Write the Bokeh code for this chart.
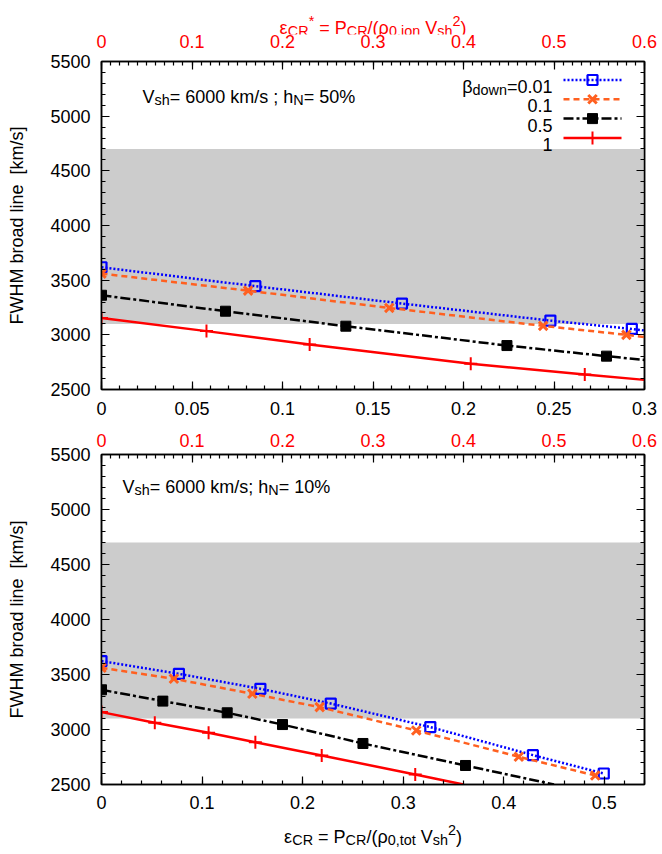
import numpy as np
from bokeh.plotting import figure
from bokeh.models import (Range1d, LinearAxis, FixedTicker, CustomJSTickFormatter,
                          BoxAnnotation, Label)
from bokeh.layouts import column
from bokeh.embed import file_html
from bokeh.resources import INLINE

# ---------------- data ----------------
BAND_LO, BAND_HI = 3100, 4700
Y_TICKS = [2500, 3000, 3500, 4000, 4500, 5000, 5500]
STAR_TICKS = [0, 0.1, 0.2, 0.3, 0.4, 0.5, 0.6]
TOP_X_TICKS = [0, 0.05, 0.1, 0.15, 0.2, 0.25, 0.3]
BOT_X_TICKS = [0, 0.1, 0.2, 0.3, 0.4, 0.5]
TOP_XMAX = 0.3
BOT_XMAX = 0.54
STAR_MAX = 0.6
BETA_LABELS = ["0.01", "0.1", "0.5", "1"]

# top panel (h_N = 50%)
TOP_EPS_B001 = [0, 0.085, 0.166, 0.248, 0.293]
TOP_FWHM_B001 = [3618, 3445, 3286, 3130, 3054]
TOP_EPS_B01 = [0, 0.081, 0.159, 0.244, 0.290]
TOP_FWHM_B01 = [3560, 3404, 3246, 3082, 3000]
TOP_EPS_B05 = [0, 0.0685, 0.135, 0.224, 0.279]
TOP_FWHM_B05 = [3362, 3216, 3079, 2902, 2805]
TOP_EPS_B1 = [0, 0.058, 0.115, 0.204, 0.267]
TOP_FWHM_B1 = [3155, 3034, 2911, 2735, 2637]
# where the curves leave the right edge of the frame
TOP_END_EPS = [0.3, 0.3, 0.3, 0.3]
TOP_END_FWHM = [3040, 2980, 2770, 2588]

# bottom panel (h_N = 10%)
BOT_EPS_B001 = [0, 0.077, 0.158, 0.228, 0.327, 0.429, 0.4995]
BOT_FWHM_B001 = [3622, 3506, 3370, 3236, 3022, 2767, 2600]
BOT_EPS_B01 = [0, 0.072, 0.150, 0.217, 0.313, 0.415, 0.491]
BOT_FWHM_B01 = [3561, 3461, 3325, 3203, 2991, 2752, 2582]
BOT_EPS_B05 = [0, 0.061, 0.125, 0.180, 0.260, 0.362]
BOT_FWHM_B05 = [3361, 3258, 3152, 3045, 2873, 2673]
BOT_EPS_B1 = [0, 0.053, 0.1065, 0.153, 0.219, 0.312]
BOT_FWHM_B1 = [3158, 3061, 2970, 2885, 2764, 2591]
# where the curves leave the bottom of the frame (None: curve stops at last point)
BOT_END_EPS = [None, None, 0.45, 0.36]
BOT_END_FWHM = [None, None, 2500, 2500]

# ---------------- styles ----------------
FONT = "Liberation Sans"
FS = 18
SUBF = 0.8
RED = "#ff0000"
STYLES = [
    dict(color="#0000ff", dash="2 2", marker="square", size=10, fill=None, mlw=2.2),
    dict(color="#ff6020", dash="6 4", marker="x", size=12, fill=None, mlw=3),
    dict(color="#000000", dash="10 3 3 3", marker="square", size=10, fill="#000000", mlw=1),
    dict(color="#ff0000", dash="solid", marker="cross", size=13, fill=None, mlw=2),
]
FW = 543
BL, BR = 101, 14

W = {' ': 278, '%': 889, '(': 333, ')': 333, '*': 389, ',': 278, '.': 278, '/': 278,
     ';': 278, '=': 584, '[': 278, ']': 278, 'C': 722, 'N': 722, 'P': 667, 'R': 722,
     'V': 667, 'a': 556, 'b': 556, 'd': 556, 'e': 556, 'h': 556, 'i': 222, 'k': 500,
     'l': 222, 'm': 833, 'n': 556, 'o': 556, 'r': 333, 's': 500, 't': 278, 'w': 722,
     'ε': 460, 'ρ': 577, 'β': 575}


def text_w(s, size):
    return sum(W.get(c, 556) for c in s) / 1000.0 * size


def rich(p, x, y, parts, color="black", anchor="left", size=FS):
    sizes = [size if m == "n" else size * SUBF for _, m in parts]
    widths = [text_w(t, s) for (t, _), s in zip(parts, sizes)]
    tot = sum(widths)
    x0 = x - tot / 2 if anchor == "center" else (x - tot if anchor == "right" else x)
    for (t, m), s, w in zip(parts, sizes, widths):
        dy = {"n": 0, "b": -0.22 * size, "p": 0.38 * size}[m]
        p.add_layout(Label(x=x0, y=y + dy, x_units="screen", y_units="screen",
                           text=t.replace(" ", "\u00a0"),
                           text_font=FONT, text_font_size=f"{s:.1f}px", text_color=color,
                           text_align="left", text_baseline="alphabetic"))
        x0 += w


FMT = CustomJSTickFormatter(code="return Number(tick.toFixed(2)).toString();")
NOFMT = CustomJSTickFormatter(code="return '';")


def style_labels(ax, color="black"):
    ax.major_label_text_font = FONT
    ax.major_label_text_font_size = f"{FS}px"
    ax.major_label_text_color = color


def strip(h, bbot=0, with_star_axis=False):
    s = figure(frame_width=FW, frame_height=h, x_range=Range1d(0, STAR_MAX), y_range=Range1d(0, 1),
               x_axis_type="linear" if with_star_axis else None, y_axis_type=None,
               output_backend="svg", toolbar_location=None, min_border_left=BL,
               min_border_right=BR, min_border_top=0, min_border_bottom=bbot,
               outline_line_color=None)
    s.grid.visible = False
    if with_star_axis:
        ax = s.xaxis[0]
        ax.ticker = FixedTicker(ticks=STAR_TICKS, minor_ticks=[])
        ax.formatter = FMT
        ax.major_tick_in = 0
        ax.major_tick_out = 0
        ax.minor_tick_in = 0
        ax.minor_tick_out = 0
        ax.axis_line_color = None
        ax.major_tick_line_color = None
        ax.minor_tick_line_color = None
        ax.major_label_standoff = 0
        style_labels(ax, RED)
    return s


def make_fig(xmax, xticks, fh, btop, bbot, top_labels, top_standoff, bot_standoff):
    p = figure(frame_width=FW, frame_height=fh, x_range=Range1d(0, xmax),
               y_range=Range1d(Y_TICKS[0], Y_TICKS[-1]), output_backend="svg",
               toolbar_location=None, min_border_left=BL, min_border_right=BR,
               min_border_top=btop, min_border_bottom=bbot)
    p.extra_x_ranges = {"star": Range1d(0, STAR_MAX)}
    p.grid.visible = False
    p.outline_line_color = "black"
    p.outline_line_width = 1.5
    step = xticks[1] - xticks[0]
    xax = p.xaxis[0]
    xax.ticker = FixedTicker(ticks=xticks, minor_ticks=list(np.arange(0, xmax + 1e-9, step / 5)))
    yax = p.yaxis[0]
    yax.ticker = FixedTicker(ticks=Y_TICKS, minor_ticks=list(range(Y_TICKS[0], Y_TICKS[-1] + 1, 100)))
    yax.axis_label = "FWHM broad line\u00a0 [km/s]"
    yax.axis_label_text_font = FONT
    yax.axis_label_text_font_size = f"{FS}px"
    yax.axis_label_text_font_style = "normal"
    yax.axis_label_text_color = "black"
    yax.axis_label_standoff = 20
    top = LinearAxis(x_range_name="star",
                     ticker=FixedTicker(ticks=STAR_TICKS,
                                        minor_ticks=list(np.arange(0, STAR_MAX + 1e-9, 0.01))))
    right = LinearAxis(ticker=FixedTicker(ticks=Y_TICKS,
                                          minor_ticks=list(range(Y_TICKS[0], Y_TICKS[-1] + 1, 100))))
    p.add_layout(top, "above")
    p.add_layout(right, "right")
    for ax in (xax, yax, top, right):
        ax.formatter = FMT
        ax.major_tick_in = 8
        ax.major_tick_out = 0
        ax.minor_tick_in = 4
        ax.minor_tick_out = 0
        ax.axis_line_width = 1.5
        ax.major_tick_line_width = 1.2
        ax.minor_tick_line_width = 1.2
        style_labels(ax)
    yax.major_label_standoff = 11
    xax.major_label_standoff = bot_standoff
    if top_labels:
        top.major_label_standoff = top_standoff
        top.major_label_text_color = RED
    else:
        top.formatter = NOFMT
        top.major_label_standoff = 0
        top.major_label_text_font_size = "1px"
    right.formatter = NOFMT
    right.major_label_standoff = 0
    p.add_layout(BoxAnnotation(bottom=BAND_LO, top=BAND_HI, fill_color="#cccccc",
                               fill_alpha=1.0, line_color=None, level="underlay"))
    return p


def draw_series(p, xs, ys, st, end_x=None, end_y=None):
    lx = list(xs) + ([end_x] if end_x is not None else [])
    ly = list(ys) + ([end_y] if end_y is not None else [])
    p.line(lx, ly, line_color=st["color"], line_width=2.5, line_dash=st["dash"])
    p.scatter(xs, ys, marker=st["marker"], size=st["size"], line_color=st["color"],
              fill_color=st["fill"], line_width=st["mlw"])


# ---------------- title strip (with the red eps* tick labels below it) ----------------
H0 = 34
s0 = strip(H0, bbot=0, with_star_axis=True)
rich(s0, FW / 2, 7,
     [("ε", "n"), ("CR", "b"), ("*", "p"), (" = P", "n"), ("CR", "b"), ("/(ρ", "n"),
      ("0,ion", "b"), (" V", "n"), ("sh", "b"), ("2", "p"), (")", "n")],
     color=RED, anchor="center")

# ---------------- top panel ----------------
FH1 = 328
p1 = make_fig(TOP_XMAX, TOP_X_TICKS, FH1, 11, 33, False, 0, 12)
top_series = [(TOP_EPS_B001, TOP_FWHM_B001), (TOP_EPS_B01, TOP_FWHM_B01),
              (TOP_EPS_B05, TOP_FWHM_B05), (TOP_EPS_B1, TOP_FWHM_B1)]
for (xs, ys), st, ex, ey in zip(top_series, STYLES, TOP_END_EPS, TOP_END_FWHM):
    draw_series(p1, xs, ys, st, ex, ey)

rich(p1, 41, FH1 - 35,
     [("V", "n"), ("sh", "b"), ("= 6000 km/s ; h", "n"), ("N", "b"), ("= 50%", "n")])

# legend (gnuplot style: text at left, sample at right)
leg_text_x = 451
leg_base = [FH1 - 25, FH1 - 44.3, FH1 - 63.6, FH1 - 82.9]
leg_x0, leg_x1 = 462, 520
for i, (st, lab) in enumerate(zip(STYLES, BETA_LABELS)):
    if i == 0:
        rich(p1, leg_text_x, leg_base[i], [("β", "n"), ("down", "b"), ("=" + lab, "n")], anchor="right")
    else:
        rich(p1, leg_text_x, leg_base[i], [(lab, "n")], anchor="right")
    cy = leg_base[i] + 6.5
    yd = Y_TICKS[0] + cy / FH1 * (Y_TICKS[-1] - Y_TICKS[0])
    xa = leg_x0 / FW * TOP_XMAX
    xb = leg_x1 / FW * TOP_XMAX
    p1.line([xa, xb], [yd, yd], line_color=st["color"], line_width=2.5, line_dash=st["dash"])
    p1.scatter([(xa + xb) / 2], [yd], marker=st["marker"], size=st["size"], line_color=st["color"],
               fill_color=st["fill"], line_width=st["mlw"])

# ---------------- bottom panel ----------------
FH2 = 330
p2 = make_fig(BOT_XMAX, BOT_X_TICKS, FH2, 32, 31, True, 8, 11)
bot_series = [(BOT_EPS_B001, BOT_FWHM_B001), (BOT_EPS_B01, BOT_FWHM_B01),
              (BOT_EPS_B05, BOT_FWHM_B05), (BOT_EPS_B1, BOT_FWHM_B1)]
for (xs, ys), st, ex, ey in zip(bot_series, STYLES, BOT_END_EPS, BOT_END_FWHM):
    draw_series(p2, xs, ys, st, ex, ey)

rich(p2, 21, FH2 - 32,
     [("V", "n"), ("sh", "b"), ("= 6000 km/s; h", "n"), ("N", "b"), ("= 10%", "n")])

# ---------------- x-label strip ----------------
H3 = 33
s3 = strip(H3)
rich(s3, FW / 2, 12,
     [("ε", "n"), ("CR", "b"), (" = P", "n"), ("CR", "b"), ("/(ρ", "n"),
      ("0,tot", "b"), (" V", "n"), ("sh", "b"), ("2", "p"), (")", "n")],
     anchor="center")

layout = column(s0, p1, p2, s3, spacing=0)
open("out.html", "w").write(file_html(layout, INLINE))
